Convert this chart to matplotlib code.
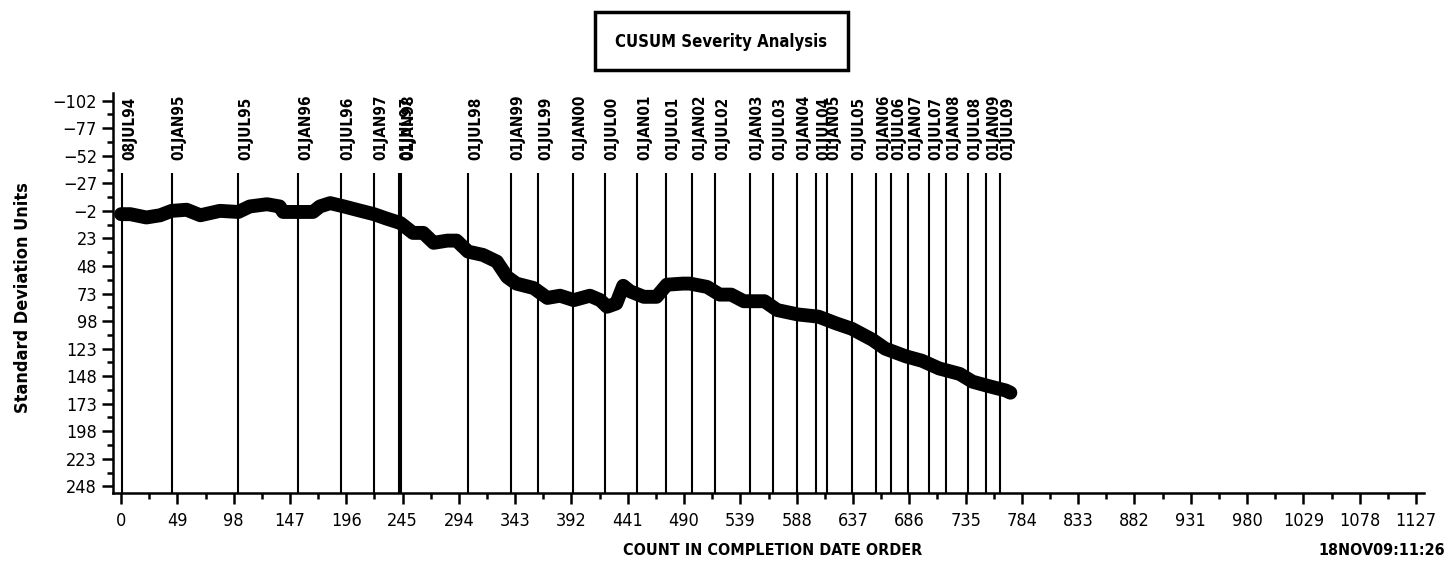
import matplotlib
matplotlib.use("Agg")
import matplotlib.pyplot as plt
from matplotlib.patches import Rectangle
from matplotlib.ticker import FixedLocator

plt.rcParams['font.family'] = ['DejaVu Sans']
plt.rcParams['font.stretch'] = 'condensed'

# CUSUM curve (count in completion order, std dev units)
count = [0, 8, 22, 34, 44, 57, 69, 86, 102, 112, 127, 138, 141, 156, 167, 173,
         182, 194, 205, 220, 231, 243, 254, 263, 272, 284, 292, 302, 315, 327,
         336, 344, 359, 371, 382, 394, 408, 417, 423, 431, 437, 443, 455, 466,
         475, 489, 495, 510, 521, 531, 542, 560, 571, 589, 607, 622, 636, 654,
         665, 683, 697, 712, 730, 741, 755, 770, 774]
cusum = [1, 1, 4, 2, -2, -3, 2, -2, -1, -6, -8, -6, -1, -1, -1, -6,
         -9, -6, -3, 1, 5, 9, 18, 18, 27, 25, 25, 35, 38, 44,
         58, 64, 68, 77, 75, 79, 75, 79, 85, 82, 66, 71, 76, 76,
         65, 64, 64, 67, 74, 74, 80, 80, 88, 92, 94, 100, 105, 115,
         123, 130, 134, 141, 146, 153, 157, 161, 163]

# reference dates and the count where each one falls
date_pos = [1, 44, 102, 154, 191, 220, 242, 244, 302, 339, 363, 393, 421, 449,
            474, 497, 517, 547, 567, 588, 605, 614, 636, 657, 670, 685, 703,
            718, 737, 753, 765]
date_lbl = ['08JUL94', '01JAN95', '01JUL95', '01JAN96', '01JUL96', '01JAN97',
            '01JUL97', '01JAN98', '01JUL98', '01JAN99', '01JUL99', '01JAN00',
            '01JUL00', '01JAN01', '01JUL01', '01JAN02', '01JUL02', '01JAN03',
            '01JUL03', '01JAN04', '01JUL04', '01JAN05', '01JUL05', '01JAN06',
            '01JUL06', '01JAN07', '01JUL07', '01JAN08', '01JUL08', '01JAN09',
            '01JUL09']

x_ticks = list(range(0, 1128, 49))
y_ticks = list(range(-102, 249, 25))

fig = plt.figure(figsize=(14.55, 5.66), dpi=100)
ax = fig.add_axes([0.0777, 0.129, 0.901, 0.7068])

ax.vlines(date_pos, -36.5, 254, color='black', lw=1.5, zorder=2)
ax.plot(count, cusum, color='black', lw=10, solid_capstyle='round',
        solid_joinstyle='round', zorder=3)

for x, lbl in zip(date_pos, date_lbl):
    ax.text(x, -48, lbl, rotation=90, ha='left', va='bottom', fontsize=11,
            fontweight='bold', clip_on=False)

ax.set_xlim(-7, 1134)
ax.set_ylim(254, -109)
ax.xaxis.set_major_locator(FixedLocator(x_ticks))
ax.xaxis.set_minor_locator(FixedLocator([t + 24.5 for t in x_ticks[:-1]]))
ax.yaxis.set_major_locator(FixedLocator(y_ticks))
ax.yaxis.set_minor_locator(FixedLocator([t + 12.5 for t in y_ticks[:-1]]))

for s in ['top', 'right']:
    ax.spines[s].set_visible(False)
for s in ['left', 'bottom']:
    ax.spines[s].set_linewidth(1.8)
ax.tick_params(which='major', length=8, width=1.8, labelsize=13, direction='out')
ax.tick_params(which='minor', length=4, width=1.8, direction='out')
ax.tick_params(axis='x', pad=6)

fig.text(0.016, 0.4735, 'Standard Deviation Units', rotation=90, ha='center',
         va='center', fontsize=13, fontweight='bold')
fig.text(773 / 1455, 0.027, 'COUNT IN COMPLETION DATE ORDER', ha='center',
         va='center', fontsize=11.5, fontweight='bold')
fig.text(0.993, 0.027, '18NOV09:11:26', ha='right', va='center',
         fontsize=11.5, fontweight='bold')

fig.patches.append(Rectangle((595 / 1455, 1 - 70 / 566), 253 / 1455, 58 / 566,
                             transform=fig.transFigure, fill=False,
                             edgecolor='black', lw=2.5))
fig.text(721 / 1455, 1 - 42 / 566, 'CUSUM Severity Analysis', ha='center',
         va='center', fontsize=12, fontweight='bold')

fig.savefig('out.png', dpi=100)
